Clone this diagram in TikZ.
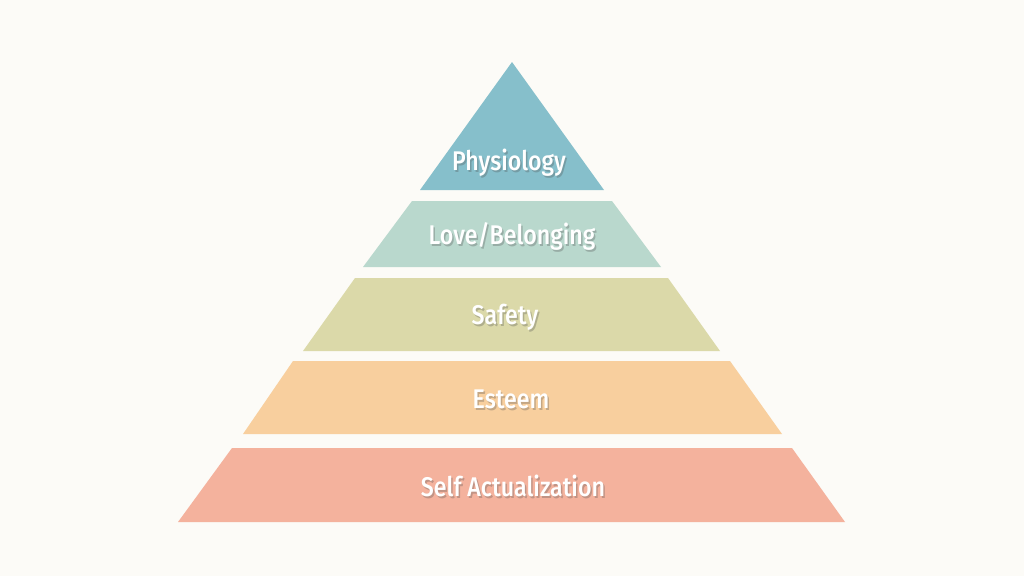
\documentclass[tikz,border=0pt]{standalone}
\usepackage{fontspec}
\setmainfont{Fira Sans}[BoldFont={Fira Sans Medium}]
\definecolor{bg}{HTML}{FCFBF7}
\definecolor{cA}{HTML}{86BFCB}
\definecolor{cB}{HTML}{B9D8CD}
\definecolor{cC}{HTML}{DBD9A9}
\definecolor{cD}{HTML}{F8CF9E}
\definecolor{cE}{HTML}{F4B29D}
\tikzset{
  lbl/.style={font=\fontsize{27}{29}\selectfont\bfseries, text=white, inner sep=0pt, xscale=0.86, transform shape},
  shd/.style={font=\fontsize{27}{29}\selectfont\bfseries, text=black!70, opacity=0.3, inner sep=0pt, xscale=0.86, transform shape},
}
\begin{document}
\begin{tikzpicture}[x=1pt,y=-1pt]
\fill[bg] (0,0) rectangle (1024,576);
\useasboundingbox (0,0) rectangle (1024,576);
% tiers
\fill[cA] (512,62) -- (604,190) -- (420,190) -- cycle;
\fill[cB] (412,201) -- (612,201) -- (661,267) -- (363,267) -- cycle;
\fill[cC] (355,278) -- (668,278) -- (720,351) -- (303,351) -- cycle;
\fill[cD] (293,361) -- (730,361) -- (782,434) -- (243,434) -- cycle;
\fill[cE] (232,448) -- (792,448) -- (845,522) -- (178,522) -- cycle;
% labels with soft shadow
\foreach \t/\x/\y/\n in {Physiology/509/163/a, Love\slash Belonging/512/236/b, Safety/505/317/c, Esteem/511/399/d, Self Actualization/513/486/e}{
  \node[shd] (s\n) at (\x+1.5,\y+2) {\t};
  \node[lbl] (l\n) at (\x,\y) {\t};
}
\end{tikzpicture}
\end{document}
